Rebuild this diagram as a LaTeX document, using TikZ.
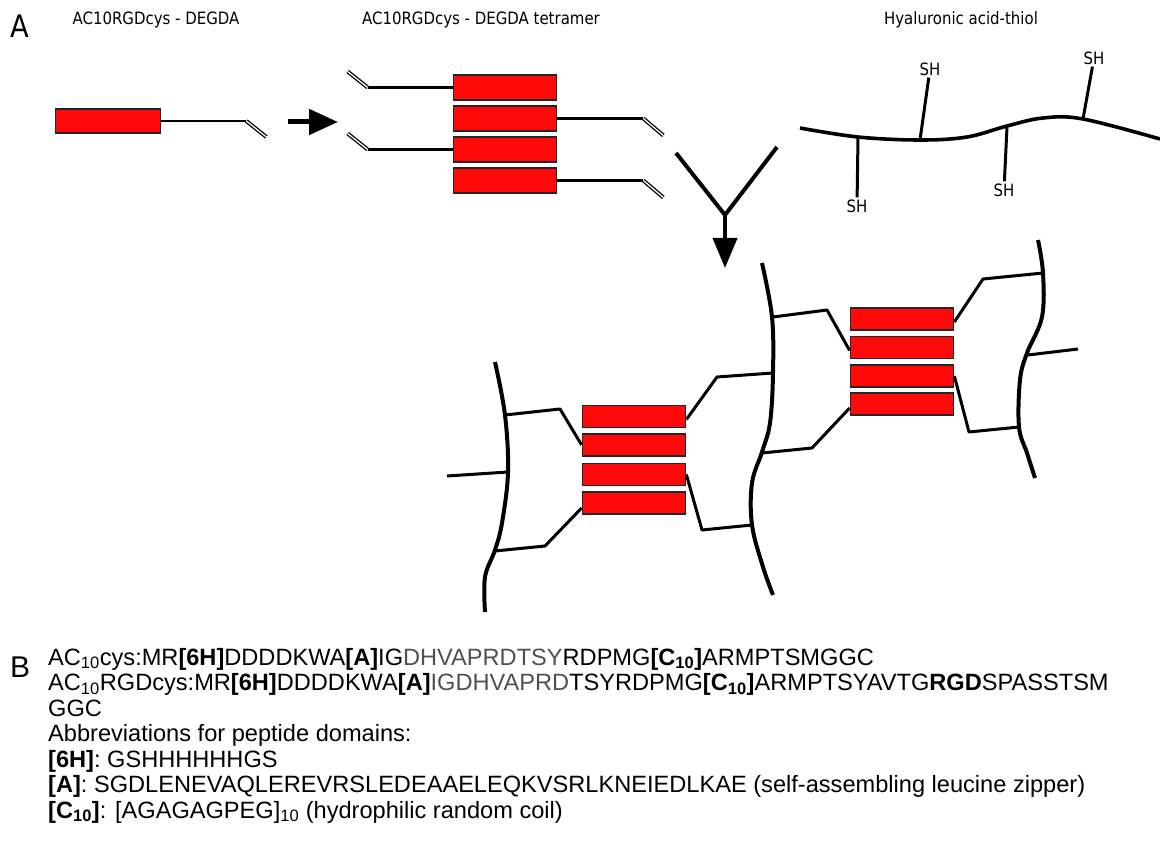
\documentclass[tikz,border=0pt]{standalone}
\usepackage{fontspec}
\setmainfont{Liberation Sans}
\newfontfamily\labfont[FakeStretch=0.88]{DejaVu Sans}
\usetikzlibrary{arrows.meta}
\definecolor{hred}{RGB}{255,10,10}
\definecolor{lightseq}{RGB}{80,80,80}

\begin{document}
\begin{tikzpicture}[x=1pt,y=-1pt,
 block/.style={draw=black!85,fill=hred,line width=1.7pt,minimum width=103pt,minimum height=#1,inner sep=0pt},
 block/.default=22pt,
 tail/.style={line width=2.6pt},
 dbond/.style={line width=1.3pt,double,double distance=1.3pt},
 chain/.style={line width=4pt,line join=round},
 link/.style={line width=3pt,line join=round},
 bigarrow/.style={line width=5pt,-{Triangle[length=29pt,width=25pt]}},
 ttl/.style={font=\labfont\fontsize{17}{20}\selectfont,inner sep=0pt},
 sh/.style={font=\labfont\fontsize{17}{20}\selectfont,inner sep=2pt},
 seq/.style={anchor=base west,inner sep=0pt,font=\fontsize{23.6}{25.5}\selectfont}]
\useasboundingbox (0,0) rectangle (1160,861);
% panel A
\node[anchor=base west,inner sep=0pt,font=\labfont\fontsize{31}{31}\selectfont] (lblA) at (10,38) {A};
\node[ttl,anchor=base] (tmono) at (156,25) {AC10RGDcys - DEGDA};
\node[ttl,anchor=base] (ttetra) at (481,25) {AC10RGDcys - DEGDA tetramer};
\node[ttl,anchor=base] (tha) at (961,25) {Hyaluronic acid-thiol};
% monomer
\node[block=24.5pt,minimum width=105pt] (mono) at (108,121) {};
\draw[tail] (mono.east) -- ++(85,0) coordinate (monoT);
\draw[dbond] (monoT) -- ++(20,16) coordinate (monoD);
\coordinate (arS) at (288,122);
\coordinate (arE) at (338,122);
\draw[bigarrow] (arS) -- (arE);
% tetramer
\foreach \k/\yy in {1/87.5,2/118.5,3/149.5,4/180.5}
 \node[block=25.5pt] (tet\k) at (505,\yy) {};
\foreach \k in {1,3}{
 \draw[tail] (tet\k.west) -- ++(-85,0) coordinate (tet\k T);
 \draw[dbond] (tet\k T) -- ++(-20,-16);
}
\foreach \k in {2,4}{
 \draw[tail] (tet\k.east) -- ++(86,0) coordinate (tet\k T);
 \draw[dbond] (tet\k T) -- ++(20,17);
}
% hyaluronic acid
\draw[chain,line width=3.6pt] plot[smooth,tension=.6] coordinates
 {(800,128) (858,137) (920,140) (967,137) (1007,126) (1043,118) (1083,119) (1160,139)};
\coordinate (ha1) at (858,137);
\coordinate (ha2) at (920,140);
\coordinate (ha3) at (1007,127);
\coordinate (ha4) at (1083,119);
\node[sh] (sh1) at (857,206) {SH};
\node[sh] (sh2) at (930,69) {SH};
\node[sh] (sh3) at (1004,190) {SH};
\node[sh] (sh4) at (1094,58) {SH};
\foreach \k in {1,...,4}
 \draw[link] (ha\k) -- (sh\k);
% combining arrow
\coordinate (yl) at (676,153);
\coordinate (yr) at (777,147);
\coordinate (yj) at (725,215);
\coordinate (yt) at (725,268);
\draw[chain,line join=miter] (yl) -- (yj) -- (yr);
\draw[chain,-{Triangle[length=30pt,width=24pt]}] (yj) -- (yt);
% hydrogel network
\draw[chain] plot[smooth,tension=.6] coordinates
 {(495,362) (505,415) (508,472) (502,523) (495,550) (485,577) (485,612)};
\draw[chain] plot[smooth,tension=.6] coordinates
 {(762,263) (772,317) (773,373) (770,423) (762,452) (752,483) (752,525) (763,567) (773,595)};
\draw[chain] plot[smooth,tension=.6] coordinates
 {(1038,240) (1043,273) (1042,317) (1027,353) (1020,380) (1019,427) (1027,453) (1035,478)};
\foreach \k/\yy in {1/416.5,2/445,3/474.5,4/503}
 \node[block] (lo\k) at (634,\yy) {};
\foreach \k/\yy in {1/319,2/347.5,3/376,4/404}
 \node[block] (up\k) at (902,\yy) {};
\coordinate (cA1) at (505,415);
\coordinate (cA2) at (508,472);
\coordinate (cA3) at (495,551);
\coordinate (cB1) at (773,317);
\coordinate (cB2) at (773,373);
\coordinate (cB3) at (762,453);
\coordinate (cB4) at (752,525);
\coordinate (cC1) at (1043,273);
\coordinate (cC2) at (1028,355);
\coordinate (cC3) at (1019,427);
\draw[link] (cA1) -- (560,409) -- (lo2.west);
\draw[link] (cA3) -- (545,546) -- ([yshift=-5pt]lo4.west);
\draw[link] (cA2) -- ++(-61,4);
\draw[link] ([yshift=-3pt]lo1.east) -- (717,377) -- (cB2);
\draw[link] (lo3.east) -- (702,530) -- (cB4);
\draw[link] (cB1) -- (827,310) -- ([yshift=-3pt]up2.west);
\draw[link] (cB3) -- (812,448) -- ([yshift=-4pt]up4.west);
\draw[link] ([yshift=-3pt]up1.east) -- (983,279) -- (cC1);
\draw[link] (up3.east) -- (969,432) -- (cC3);
\draw[link] (cC2) -- ++(50,-6);
% panel B
\node[anchor=base west,inner sep=0pt,font=\fontsize{30}{30}\selectfont] (lblB) at (10,677) {B};
\node[seq] (seq1) at (48,665) {AC\textsubscript{10}cys:MR\textbf{[6H]}DDDDKWA\textbf{[A]}IG{\color{lightseq}DHVAPRDTSY}RDPMG\textbf{[C\textsubscript{10}]}ARMPTSMGGC};
\node[seq] (seq2) at (48,690.5) {AC\textsubscript{10}RGDcys:MR\textbf{[6H]}DDDDKWA\textbf{[A]}{\color{lightseq}IGDHVAPRD}TSYRDPMG\textbf{[C\textsubscript{10}]}ARMPTSYAVTG\textbf{RGD}SPASSTSM};
\node[seq] (seq3) at (48,716) {GGC};
\node[seq] (seq4) at (48,741.5) {Abbreviations for peptide domains:};
\node[seq] (seq5) at (48,767) {\textbf{[6H]}: GSHHHHHHGS};
\node[seq] (seq6) at (48,792.5) {\textbf{[A]}: SGDLENEVAQLEREVRSLEDEAAELEQKVSRLKNEIEDLKAE (self-assembling leucine zipper)};
\node[seq] (seq7) at (48,818) {\textbf{[C\textsubscript{10}]}: [AGAGAGPEG]\textsubscript{10} (hydrophilic random coil)};
\end{tikzpicture}
\end{document}
